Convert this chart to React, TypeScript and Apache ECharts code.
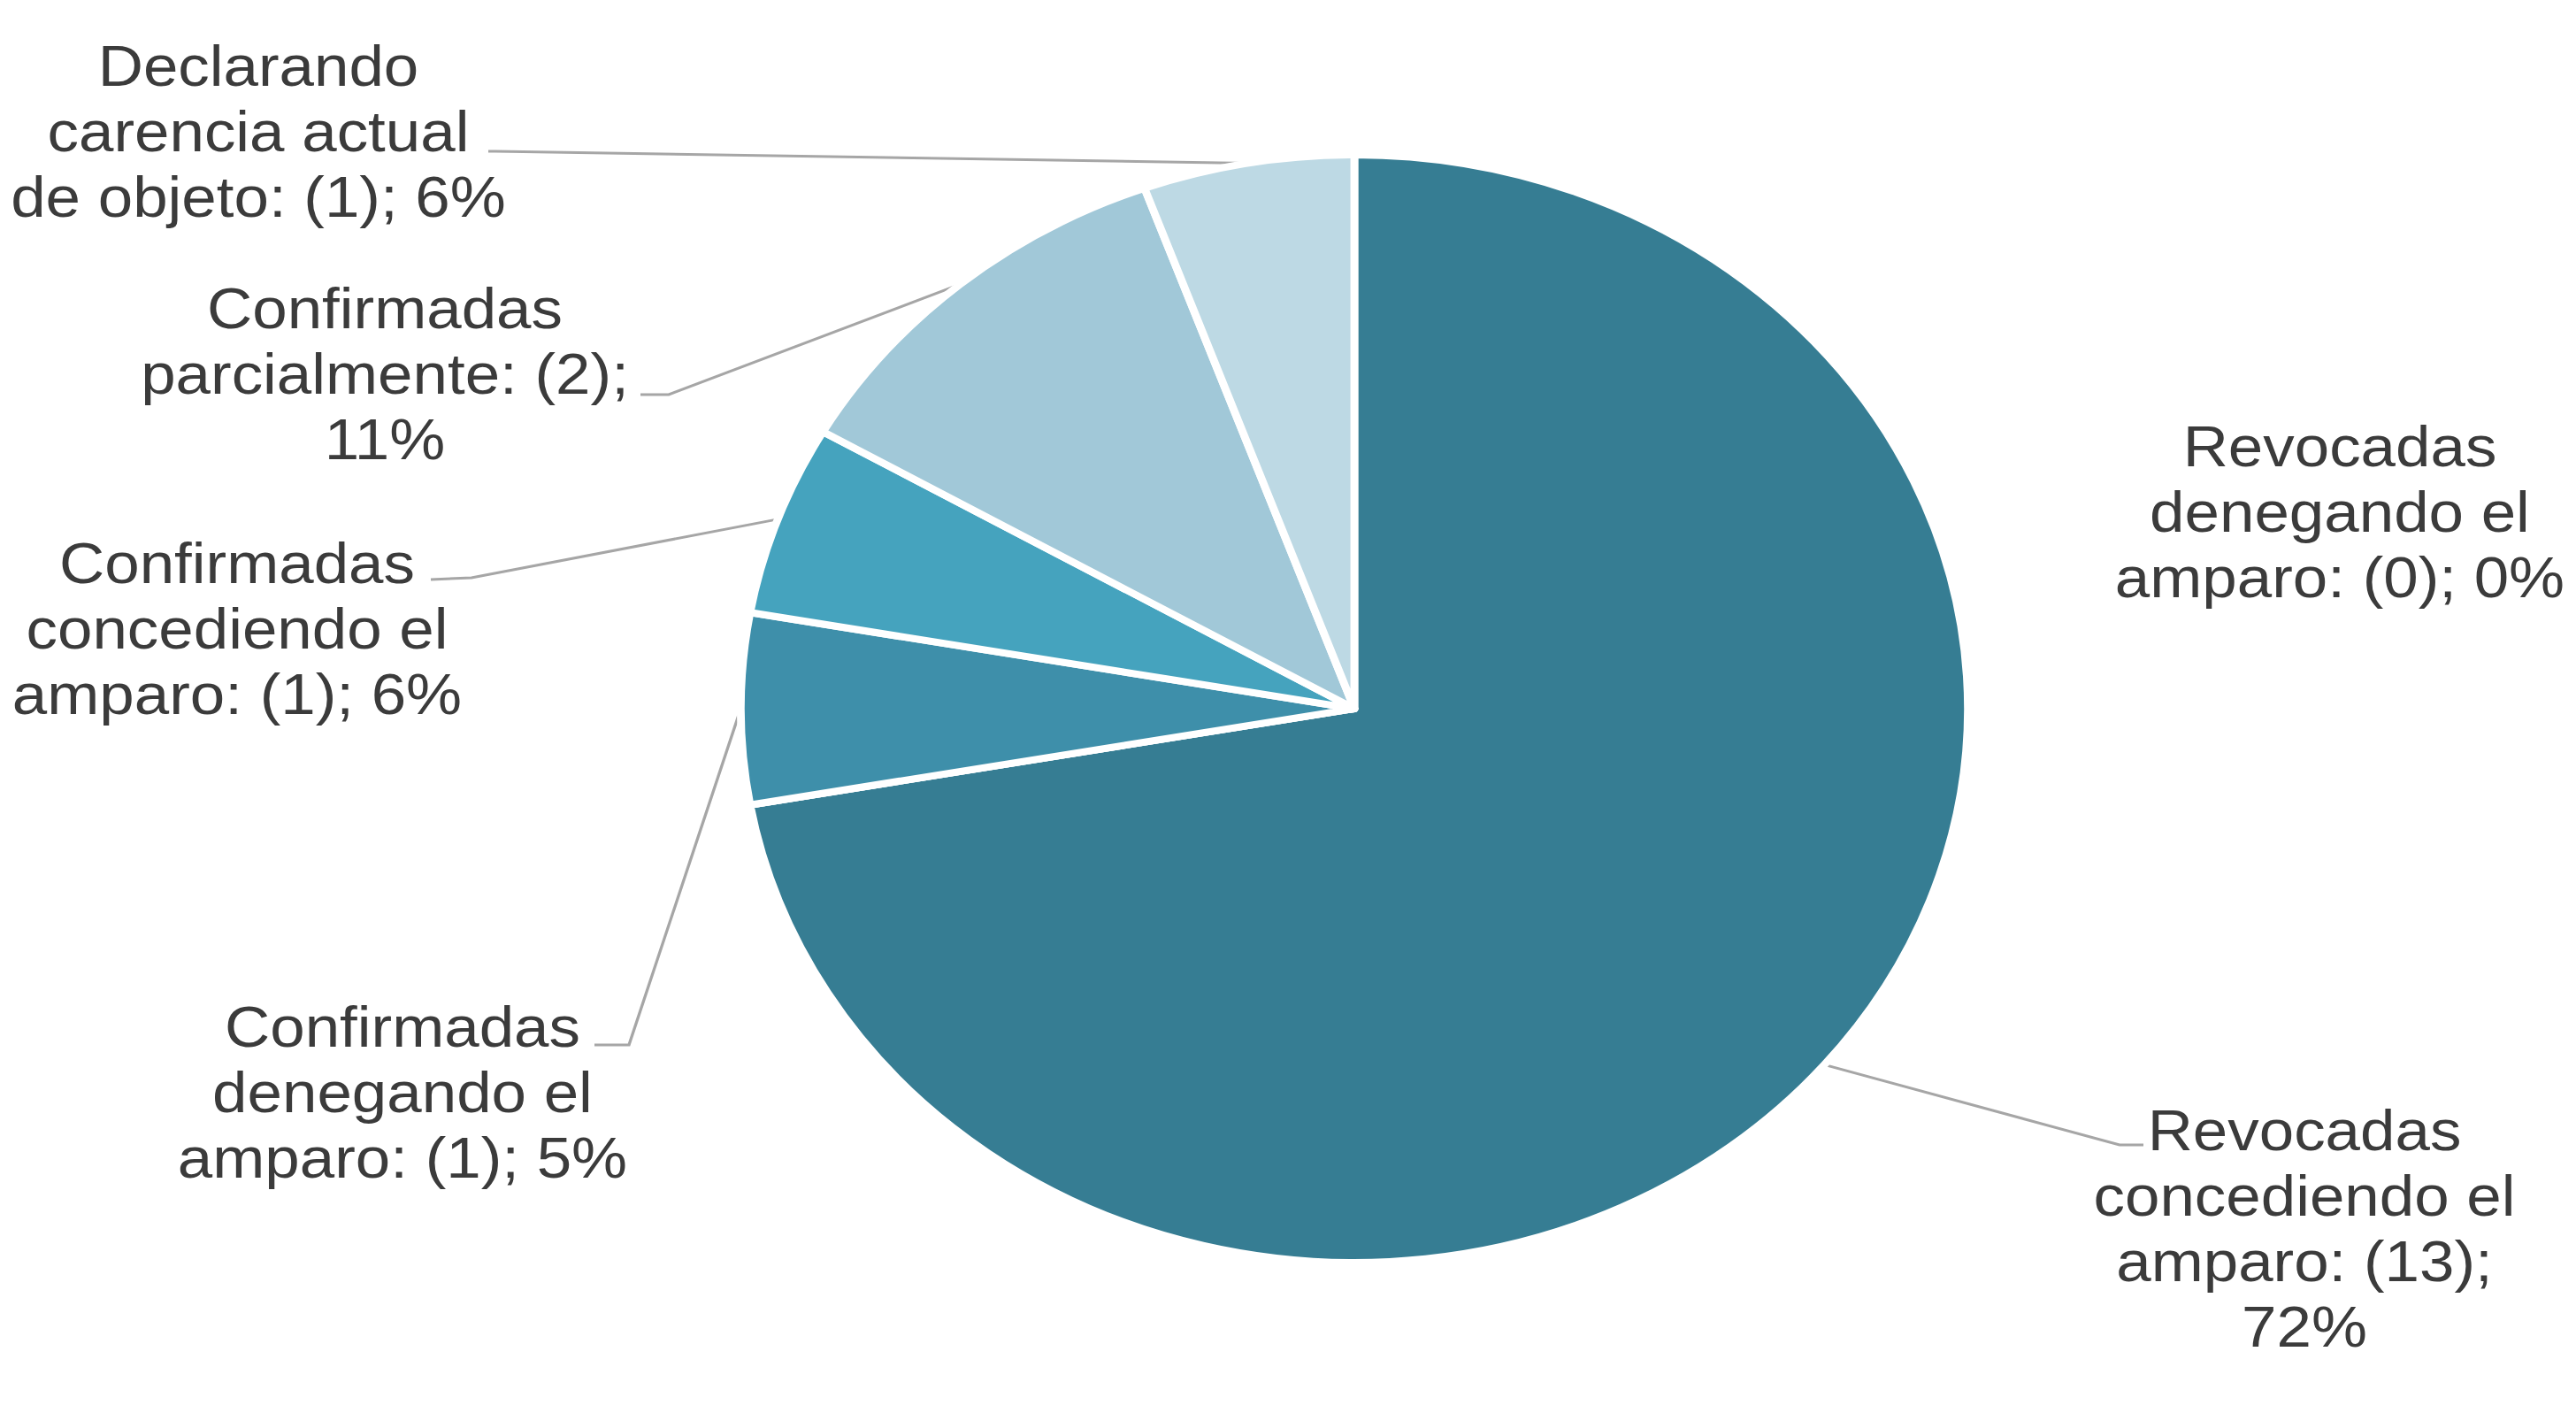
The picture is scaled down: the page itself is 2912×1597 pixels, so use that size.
import React, { useEffect, useRef } from "react";
import * as echarts from "echarts";

// ---- data ----
const categories = [
  "Revocadas\nconcediendo el\namparo",
  "Revocadas\ndenegando el\namparo",
  "Confirmadas\ndenegando el\namparo",
  "Confirmadas\nconcediendo el\namparo",
  "Confirmadas\nparcialmente",
  "Declarando\ncarencia actual\nde objeto",
];
const values = [13, 0, 1, 1, 2, 1];
const pctLabels = ["72%", "0%", "5%", "6%", "11%", "6%"];
const pctOnNewLine = [true, false, false, false, true, false];

// ---- style / layout ----
const colors = ["#367D93", "#367D93", "#3E8FAA", "#45A3BE", "#A1C8D8", "#BDD9E4"];
const SX = 1.108; // horizontal stretch of the original picture
const W = 2912 / SX;
const H = 1597;
// label centres (full picture coordinates)
const labelCenters: [number, number][] = [
  [2605, 1389],
  [2645, 579],
  [455, 1235],
  [268, 711],
  [435, 423],
  [292, 149],
];
// leader-line elbow points (full picture coordinates): [textEnd, elbow]
const leaderPts: ([number, number][] | null)[] = [
  [[2423, 1294], [2396, 1294]],
  null,
  [[672, 1181], [711, 1181]],
  [[487, 655], [533, 653]],
  [[724, 446], [756, 446]],
  [[552, 171], [560, 171]],
];

export default function App() {
  const ref = useRef<HTMLDivElement>(null);
  useEffect(() => {
    document.body.style.margin = "0";
    document.body.style.overflow = "hidden";
    document.documentElement.style.overflow = "hidden";
    const chart = echarts.init(ref.current!, null, { renderer: "svg" });
    chart.setOption({
      animation: false,
      backgroundColor: "#ffffff",
      series: [
        {
          type: "pie",
          center: [1531 / SX, 801],
          radius: 626,
          startAngle: 90,
          clockwise: true,
          avoidLabelOverlap: false,
          itemStyle: { borderColor: "#ffffff", borderWidth: 8 },
          label: {
            show: true,
            position: "outer",
            color: "#3B3B3B",
            fontFamily: "Liberation Sans, Arial, sans-serif",
            fontSize: 64,
            lineHeight: 74,
            align: "center",
            formatter: (p: any) =>
              `${categories[p.dataIndex]}: (${values[p.dataIndex]});${
                pctOnNewLine[p.dataIndex] ? "\n" : " "
              }${pctLabels[p.dataIndex]}`,
          },
          labelLine: {
            show: true,
            lineStyle: { color: "#A6A6A6", width: 3 },
          },
          labelLayout: (params: any) => {
            const i = params.dataIndex;
            const [cx, cy] = labelCenters[i];
            const out: any = {
              x: cx / SX,
              y: cy,
              align: "center",
              verticalAlign: "middle",
            };
            const lp = leaderPts[i];
            if (lp && params.labelLinePoints) {
              const edge = params.labelLinePoints[0];
              out.labelLinePoints = [
                [edge[0], edge[1]],
                [lp[1][0] / SX, lp[1][1]],
                [lp[0][0] / SX, lp[0][1]],
              ];
            }
            return out;
          },
          data: categories.map((c, i) => ({
            name: c,
            value: values[i],
            itemStyle: { color: colors[i] },
            labelLine: { show: leaderPts[i] !== null },
          })),
        },
      ],
    });
    return () => chart.dispose();
  }, []);
  return (
    <div
      ref={ref}
      style={{
        width: W + "px",
        height: H + "px",
        transform: `scaleX(${SX})`,
        transformOrigin: "0 0",
      }}
    />
  );
}
